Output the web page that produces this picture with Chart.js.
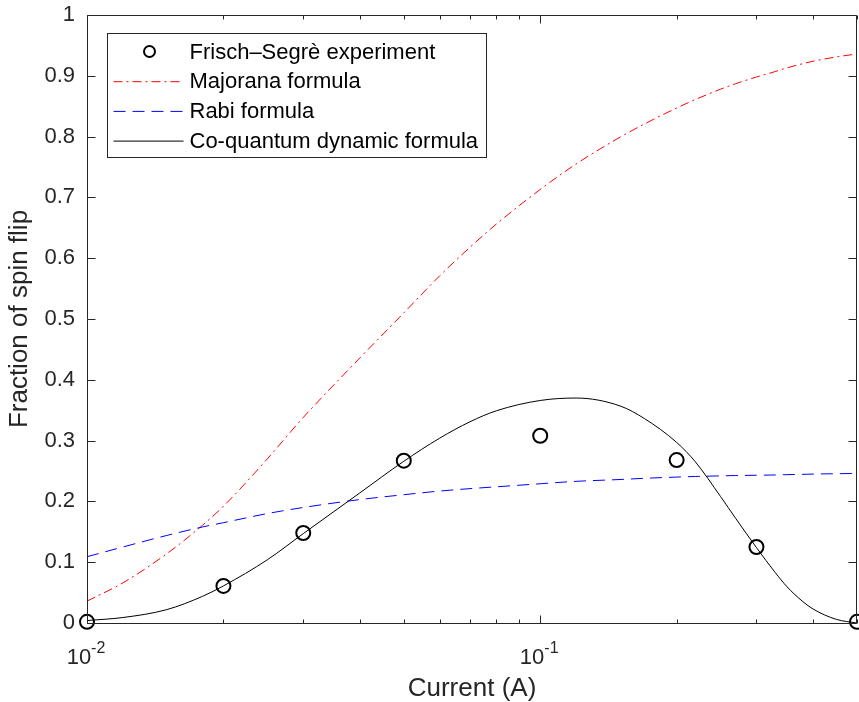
<!DOCTYPE html>
<html>
<head>
<meta charset="utf-8">
<title>Fraction of spin flip</title>
<script src="https://cdn.jsdelivr.net/npm/chart.js@4.4.0/dist/chart.umd.min.js"></script>
<style>
  html, body { margin: 0; padding: 0; background: #fff; }
  canvas { display: block; }
</style>
</head>
<body>
<canvas id="spinChart" width="859" height="702"></canvas>
<script>
const currentSamples = [0.01, 0.012, 0.015, 0.018, 0.02, 0.025, 0.03, 0.04, 0.05, 0.06, 0.07, 0.08, 0.1, 0.12, 0.15, 0.17, 0.2, 0.22, 0.25, 0.27, 0.3, 0.33, 0.35, 0.38, 0.4, 0.45, 0.5];
const majoranaValues = [0.036, 0.066, 0.114, 0.161, 0.192, 0.270, 0.338, 0.436, 0.510, 0.571, 0.618, 0.656, 0.713, 0.755, 0.799, 0.821, 0.847, 0.861, 0.878, 0.887, 0.898, 0.907, 0.913, 0.920, 0.924, 0.931, 0.936];
const rabiValues = [0.109, 0.125, 0.144, 0.158, 0.165, 0.180, 0.190, 0.203, 0.211, 0.217, 0.221, 0.224, 0.229, 0.233, 0.236, 0.238, 0.240, 0.241, 0.242, 0.2425, 0.243, 0.2435, 0.244, 0.2445, 0.245, 0.2455, 0.246];
const coQuantumValues = [0.004, 0.009, 0.022, 0.044, 0.061, 0.104, 0.147, 0.214, 0.266, 0.304, 0.331, 0.349, 0.366, 0.370, 0.357, 0.336, 0.297, 0.265, 0.208, 0.172, 0.124, 0.083, 0.060, 0.035, 0.023, 0.006, 0.000];

// Frisch-Segrè measurements
const experimentCurrents = [0.01, 0.02, 0.03, 0.05, 0.1, 0.2, 0.3, 0.5];
const experimentValues = [0.002, 0.061, 0.148, 0.267, 0.308, 0.268, 0.125, 0.002];

const seriesNames = ['Frisch\u2013Segrè experiment', 'Majorana formula', 'Rabi formula', 'Co-quantum dynamic formula'];

const yTickValues = [0, 0.1, 0.2, 0.3, 0.4, 0.5, 0.6, 0.7, 0.8, 0.9, 1];
const yTickLabels = ['0', '0.1', '0.2', '0.3', '0.4', '0.5', '0.6', '0.7', '0.8', '0.9', '1'];
const xMajorTicks = [0.01, 0.1];
const xMinorTicks = [0.02, 0.03, 0.04, 0.05, 0.06, 0.07, 0.08, 0.09, 0.2, 0.3, 0.4, 0.5];

const axisColor = '#262626';
const fontFamily = '"Liberation Sans", Arial, Helvetica, sans-serif';

const toPoints = (xs, ys) => xs.map((x, i) => ({ x: x, y: ys[i] }));

// keep the plot box where it is, labels may hang over the padding
const noOverhang = s => {
    s.paddingTop = 0; s.paddingBottom = 0;
    s.paddingLeft = 0; s.paddingRight = 0;
};

// box round the plot with inward ticks on all four sides, plus the 10^n labels
const boxAxes = {
    id: 'boxAxes',
    afterDatasetsDraw(chart) {
        const ctx = chart.ctx;
        const { left, right, top, bottom } = chart.chartArea;
        const xs = chart.scales.x;
        const ys = chart.scales.y;
        const L = Math.round(left) + 0.5, R = Math.round(right) - 0.5;
        const T = Math.round(top) + 0.5, B = Math.round(bottom) + 0.5;
        ctx.save();
        ctx.strokeStyle = axisColor;
        ctx.lineWidth = 1;
        ctx.setLineDash([]);
        ctx.beginPath();
        ctx.rect(L, T, R - L, B - T);
        yTickValues.forEach(v => {
            const py = Math.round(ys.getPixelForValue(v)) + 0.5;
            ctx.moveTo(L, py); ctx.lineTo(L + 8, py);
            ctx.moveTo(R, py); ctx.lineTo(R - 8, py);
        });
        const xTick = (v, len) => {
            const px = Math.round(xs.getPixelForValue(v)) + 0.5;
            ctx.moveTo(px, B); ctx.lineTo(px, B - len);
            ctx.moveTo(px, T); ctx.lineTo(px, T + len);
        };
        xMajorTicks.forEach(v => xTick(v, 8));
        xMinorTicks.forEach(v => xTick(v, 4));
        ctx.stroke();

        // x tick labels with superscript exponent
        ctx.fillStyle = axisColor;
        ctx.textBaseline = 'alphabetic';
        ctx.textAlign = 'left';
        xMajorTicks.forEach(v => {
            const base = '10';
            const expo = String(Math.round(Math.log10(v)));
            ctx.font = '22px ' + fontFamily;
            const wb = ctx.measureText(base).width;
            ctx.font = '16px ' + fontFamily;
            const we = ctx.measureText(expo).width;
            const x0 = xs.getPixelForValue(v) - (wb + we) / 2 - 1;
            ctx.font = '22px ' + fontFamily;
            ctx.fillText(base, x0, bottom + 41);
            ctx.font = '16px ' + fontFamily;
            ctx.fillText(expo, x0 + wb, bottom + 30);
        });
        ctx.restore();
    },
    afterDraw(chart) {
        // legend box in the upper-left corner of the axes
        const ctx = chart.ctx;
        const { left, top } = chart.chartArea;
        const bx = Math.round(left) + 20.5, by = Math.round(top) + 18.5;
        const bw = 379, bh = 124;
        ctx.save();
        ctx.fillStyle = '#fff';
        ctx.fillRect(bx, by, bw, bh);
        ctx.strokeStyle = axisColor;
        ctx.lineWidth = 1;
        ctx.setLineDash([]);
        ctx.strokeRect(bx, by, bw, bh);
        ctx.font = '22px ' + fontFamily;
        ctx.textBaseline = 'middle';
        ctx.textAlign = 'left';
        chart.data.datasets.forEach((ds, i) => {
            const ry = by + 18 + i * 29.7;
            ctx.strokeStyle = ds.borderColor;
            if (ds.showLine === false) {
                ctx.lineWidth = 2;
                ctx.setLineDash([]);
                ctx.beginPath();
                ctx.arc(bx + 42, ry, 5.5, 0, Math.PI * 2);
                ctx.stroke();
            } else {
                ctx.lineWidth = ds.borderWidth;
                ctx.setLineDash(ds.borderDash || []);
                ctx.beginPath();
                ctx.moveTo(bx + 6, ry + 0.5);
                ctx.lineTo(bx + 76, ry + 0.5);
                ctx.stroke();
            }
            ctx.fillStyle = '#000';
            ctx.fillText(ds.label, bx + 82, ry + 1);
        });
        ctx.restore();
    }
};

const ctx = document.getElementById('spinChart').getContext('2d');
new Chart(ctx, {
    type: 'line',
    data: {
        datasets: [
            {
                label: seriesNames[0],
                data: toPoints(experimentCurrents, experimentValues),
                showLine: false,
                borderColor: '#000',
                backgroundColor: 'rgba(0,0,0,0)',
                pointStyle: 'circle',
                pointRadius: 7,
                pointBorderWidth: 2,
                pointBackgroundColor: 'rgba(0,0,0,0)',
                pointBorderColor: '#000',
                clip: false,
                order: 0
            },
            {
                label: seriesNames[1],
                data: toPoints(currentSamples, majoranaValues),
                borderColor: '#ff0000',
                borderWidth: 1,
                borderDash: [9, 4, 2, 4],
                pointRadius: 0,
                cubicInterpolationMode: 'monotone',
                order: 3
            },
            {
                label: seriesNames[2],
                data: toPoints(currentSamples, rabiValues),
                borderColor: '#0000ff',
                borderWidth: 1,
                borderDash: [12, 7],
                pointRadius: 0,
                cubicInterpolationMode: 'monotone',
                order: 2
            },
            {
                label: seriesNames[3],
                data: toPoints(currentSamples, coQuantumValues),
                borderColor: '#000',
                borderWidth: 1,
                pointRadius: 0,
                cubicInterpolationMode: 'monotone',
                order: 1
            }
        ]
    },
    options: {
        responsive: false,
        animation: false,
        devicePixelRatio: 1,
        layout: { autoPadding: false, padding: { top: 15, right: 2, left: 0, bottom: 0 } },
        plugins: {
            legend: { display: false },
            tooltip: { enabled: false }
        },
        scales: {
            x: {
                type: 'logarithmic',
                min: 0.01,
                max: 0.5,
                grid: { display: false, drawTicks: false },
                border: { display: false },
                ticks: { display: false },
                title: {
                    display: true,
                    text: 'Current (A)',
                    color: axisColor,
                    font: { family: fontFamily, size: 26, lineHeight: 1.0 },
                    padding: { top: 0, bottom: 0 }
                },
                afterFit: s => { s.height = 79; noOverhang(s); }
            },
            y: {
                type: 'linear',
                min: 0,
                max: 1,
                grid: { display: false, drawTicks: false },
                border: { display: false },
                afterBuildTicks: s => { s.ticks = yTickValues.map(v => ({ value: v })); },
                ticks: {
                    padding: 12,
                    color: axisColor,
                    font: { family: fontFamily, size: 22 },
                    callback: (v, i) => yTickLabels[i]
                },
                title: {
                    display: true,
                    text: 'Fraction of spin flip',
                    color: axisColor,
                    font: { family: fontFamily, size: 26, lineHeight: 1.0 },
                    padding: { top: 7, bottom: 0 }
                },
                afterFit: s => { s.width = 87; noOverhang(s); }
            }
        }
    },
    plugins: [boxAxes]
});
</script>
</body>
</html>
